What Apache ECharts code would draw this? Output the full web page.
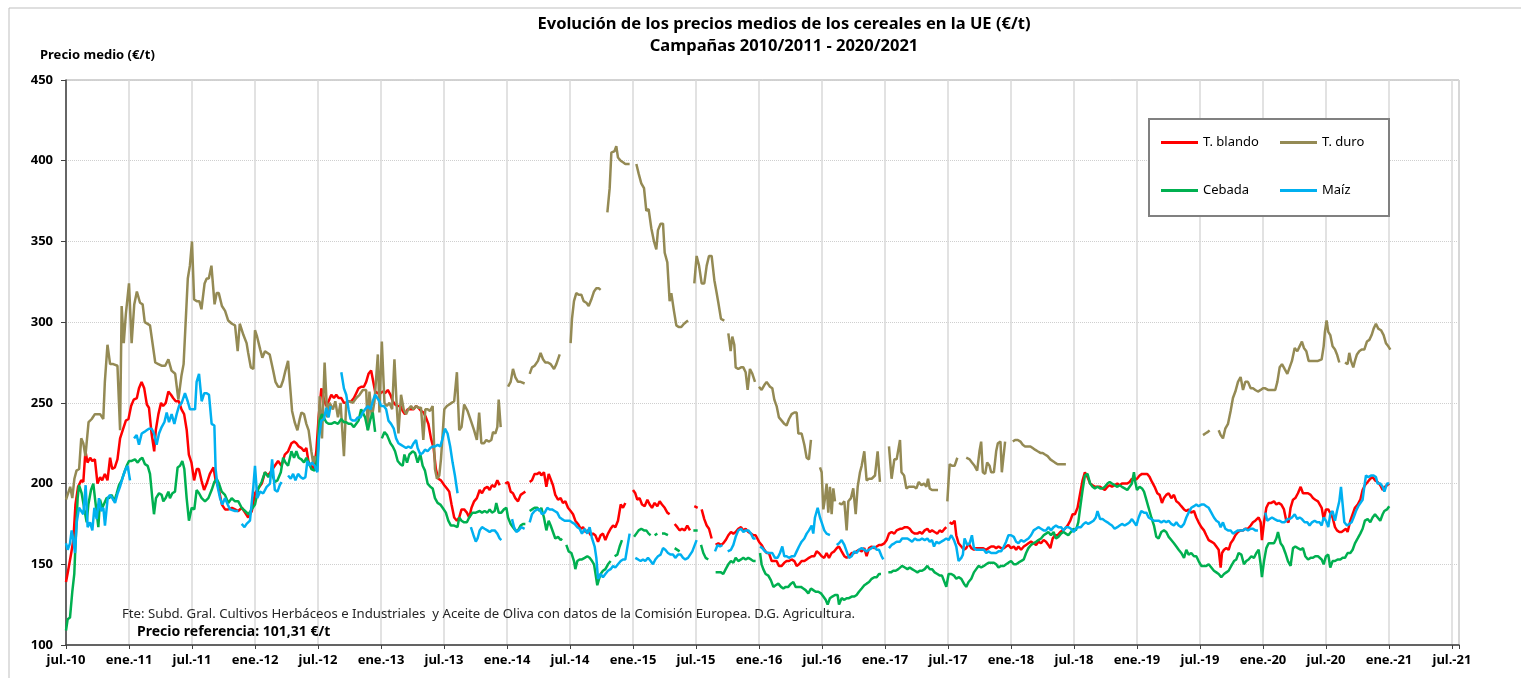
<!DOCTYPE html>
<html>
<head>
<meta charset="utf-8">
<script src="https://cdn.jsdelivr.net/npm/echarts@6/dist/echarts.min.js"></script>
<style>
  html, body { margin: 0; padding: 0; background: #fff; }
  #chart { width: 1521px; height: 678px; }
</style>
</head>
<body>
<div id="chart"></div>
<script>
// x = months since jul.-10, y = €/t ; null breaks the line
var xLabels = ['jul.-10','ene.-11','jul.-11','ene.-12','jul.-12','ene.-13','jul.-13','ene.-14','jul.-14','ene.-15','jul.-15','ene.-16',
  'jul.-16','ene.-17','jul.-17','ene.-18','jul.-18','ene.-19','jul.-19','ene.-20','jul.-20','ene.-21','jul.-21'];

var tBlando = [[0,139],[0.2,146],[0.5,157],[0.7,165],[0.9,187],[1.15,198],[1.45,202],[1.65,201],[1.85,220],[2.05,213],[2.3,216],[2.5,214],[2.75,215],[3.0,200],[3.25,204],[3.45,202],[3.7,206],[3.95,202],[4.2,216],[4.4,209],[4.65,210],[4.9,215],[5.15,228],[5.45,234],[5.7,239],[5.95,240],[6.2,248],[6.45,252],[6.75,253],[6.95,259],[7.2,263],[7.45,259],[7.7,249],[7.9,247],[8.15,231],[8.4,220],[8.55,233],[8.8,243],[9.05,250],[9.25,248],[9.5,250],[9.75,257],[10.0,255],[10.2,253],[10.45,251],[10.75,251],[11.0,246],[11.25,243],[11.5,233],[11.7,218],[11.95,213],[12.2,202],[12.45,209],[12.65,209],[12.9,202],[13.15,196],[13.4,200],[13.7,206],[14.05,210],[14.25,202],[14.5,198],[14.85,187],[15.15,184],[15.45,184],[15.8,185],[16.1,184],[16.4,183],[16.75,185],[17.05,182],[17.35,179],[17.7,183],[18.0,194],[18.3,197],[18.65,200],[18.95,207],[19.25,205],
  [19.57,208],[19.89,211],[20.2,214],[20.52,211],[20.84,218],[21.15,220],[21.47,225],[21.72,226],[21.94,225],[22.16,223],[22.42,222],[22.67,220],[22.89,222],[23.11,213],[23.37,211],[23.62,209],[23.84,220],[24.06,241],[24.32,259],[24.57,252],[24.79,248],[25.01,251],[25.27,255],[25.52,253],[25.74,255],[25.96,253],[26.22,253],[26.47,250],[26.69,250],[26.91,251],[27.16,251],[27.42,253],[27.64,256],[27.86,259],[28.11,260],[28.37,260],[28.59,263],[28.81,268],[29.06,270],[29.22,270],[29.44,257],[29.7,256],[29.95,256],[30.17,257],[30.39,256],[30.65,258],[30.9,255],[31.12,251],[31.34,249],[31.59,248],[31.85,248],[32.07,245],[32.29,243],[32.54,246],[32.86,246],[33.11,246],[33.34,248],[33.56,247],[33.81,245],[34.06,244],[34.28,241],[34.51,237],[34.76,228],[35.01,222],[35.23,209],[35.46,203],[35.71,202],[36.03,199],[36.28,197],[36.5,195],[36.72,187],[36.97,179],[37.23,177],[37.45,179],[37.67,184],[37.92,184],[38.18,182],[38.4,179],[38.62,185],[38.87,189],[39.13,191],
  [39.4,196],[39.62,194],[39.87,197],[40.13,198],[40.35,196],[40.57,199],[40.83,198],[41.08,202],[41.3,199],[41.55,null],[41.84,200],[42.1,201],[42.35,195],[42.57,194],[42.79,191],[43.05,189],[43.3,193],[43.52,194],[43.75,195],[43.95,null],[44.16,201],[44.38,202],[44.63,206],[44.89,206],[45.11,207],[45.27,205],[45.52,207],[45.75,198],[45.97,206],[46.16,205],[46.38,199],[46.6,193],[46.86,190],[47.11,191],[47.33,188],[47.56,189],[47.81,185],[48.06,183],[48.29,181],[48.51,177],[48.76,175],[49.02,172],[49.24,173],[49.46,170],[49.71,171],[49.97,168],[50.19,169],[50.41,168],[50.67,164],[50.92,168],[51.14,169],[51.37,165],[51.62,169],[51.87,172],[52.1,174],[52.32,173],[52.57,177],[52.83,187],[53.05,185],[53.27,188],[53.6,null],[54.0,196],[54.22,194],[54.41,190],[54.63,191],[54.86,187],[55.11,186],[55.37,190],[55.59,187],[55.81,185],[56.06,188],[56.32,186],[56.54,189],[56.76,187],[57.02,185],[57.27,182],[57.49,181],[57.7,null],[57.97,175],[58.22,173],[58.44,171],[58.67,172],[58.92,171],[59.17,174],[59.43,171],[59.6,null],
  [59.84,186],[60.16,185],[60.3,null],[60.54,184],[60.79,178],[61.02,174],[61.24,172],[61.49,166],[61.65,null],[61.87,162],[62.13,163],[62.38,162],[62.6,163],[62.83,165],[63.08,168],[63.33,170],[63.56,169],[63.78,170],[64.03,172],[64.29,173],[64.51,171],[64.73,172],[64.98,170],[65.24,169],[65.46,168],[65.68,168],[66.0,164],[66.25,162],[66.51,159],[66.73,157],[66.95,157],[67.21,152],[67.46,152],[67.68,152],[67.9,149],[68.16,149],[68.41,151],[68.63,152],[68.86,152],[69.11,153],[69.37,152],[69.59,149],[69.81,150],[70.06,152],[70.32,152],[70.54,153],[70.76,154],[71.02,155],[71.27,155],[71.49,158],[71.71,157],[71.97,155],[72.22,154],[72.44,157],[72.67,154],[72.92,157],[73.17,158],[73.4,160],[73.62,161],[73.87,158],[74.13,155],[74.35,154],[74.57,155],[74.83,157],[75.08,157],[75.3,158],[75.52,159],[75.78,158],[76.03,160],[76.25,155],[76.48,160],[76.73,161],[76.98,160],[77.21,161],[77.43,162],[77.68,162],[77.94,163],[78.16,165],[78.38,169],[78.63,170],[78.89,169],[79.11,171],[79.43,172],
  [79.63,172],[79.89,173],[80.14,173],[80.36,172],[80.58,170],[80.84,169],[81.09,169],[81.31,170],[81.53,169],[81.78,171],[82.04,172],[82.26,170],[82.48,171],[82.73,170],[82.99,169],[83.21,171],[83.43,170],[83.68,172],[83.84,173],[84.0,null],[84.16,176],[84.38,175],[84.63,177],[84.79,168],[85.01,163],[85.27,161],[85.52,159],[85.74,160],[85.96,163],[86.22,160],[86.47,159],[86.69,160],[87.0,160],[87.32,160],[87.64,159],[87.86,160],[88.11,161],[88.37,161],[88.59,160],[88.81,161],[89.06,160],[89.32,160],[89.54,161],[89.76,162],[90.01,160],[90.27,161],[90.49,159],[90.71,161],[90.96,159],[91.22,161],[91.44,162],[91.66,163],[91.91,164],[92.16,163],[92.39,162],[92.61,164],[92.86,163],[93.11,165],[93.34,164],[93.56,162],[93.75,160],[93.97,166],[94.19,168],[94.44,168],[94.7,170],[94.92,171],[95.14,172],[95.39,174],[95.65,177],[95.87,181],[96.09,181],[96.34,185],[96.59,194],[96.82,202],[97.04,207],[97.29,204],[97.54,200],[97.77,199],[97.99,198],[98.24,198],[98.49,198],[98.72,197],[98.94,196],[99.19,198],
  [99.4,199],[99.62,198],[99.87,199],[100.13,200],[100.35,199],[100.57,200],[100.83,200],[101.08,200],[101.3,201],[101.52,203],[101.78,202],[102.0,203],[102.25,205],[102.48,206],[102.73,206],[102.98,206],[103.21,204],[103.43,201],[103.68,198],[103.94,194],[104.16,193],[104.38,188],[104.57,191],[104.79,193],[105.02,194],[105.27,191],[105.52,193],[105.75,189],[105.97,188],[106.22,186],[106.48,184],[106.7,183],[106.92,184],[107.17,182],[107.43,183],[107.65,179],[107.87,176],[108.13,173],[108.38,171],[108.6,168],[108.83,165],[109.08,164],[109.33,163],[109.56,161],[109.78,159],[109.97,148],[110.1,157],[110.29,159],[110.51,160],[110.73,159],[110.92,163],[111.14,165],[111.37,168],[111.62,170],[111.87,171],[112.1,171],[112.32,172],[112.57,172],[112.83,174],[113.05,176],[113.27,177],[113.46,178],[113.59,179],[113.78,176],[113.9,165],[114.1,176],[114.32,185],[114.54,188],[114.79,188],[115.05,189],[115.27,187],[115.49,188],[115.75,187],[116.0,184],[116.22,177],[116.44,176],[116.63,185],[116.86,190],[117.08,191],[117.33,194],[117.59,198],[117.81,194],[118.03,194],[118.29,194],[118.54,193],[118.76,191],[118.98,190],[119.24,189],
  [119.59,185],[119.78,178],[120.0,184],[120.22,184],[120.41,183],[120.63,179],[120.86,173],[121.05,171],[121.27,170],[121.49,170],[121.68,171],[121.9,172],[122.06,170],[122.32,177],[122.54,181],[122.76,185],[123.02,187],[123.27,190],[123.49,196],[123.71,199],[123.97,201],[124.22,203],[124.44,204],[124.67,202],[124.92,201],[125.17,199],[125.4,196],[125.62,198],[125.81,198],[126.03,200]];

var tDuro = [[0,190],[0.4,198],[0.6,191],[0.8,203],[1.0,208],[1.25,209],[1.45,228],[1.65,225],[1.85,217],[2.15,238],[2.45,240],[2.75,243],[3.25,243],[3.55,240],[3.7,263],[3.95,286],[4.2,274],[4.5,274],[4.9,273],[5.15,233],[5.3,310],[5.5,287],[5.7,305],[6.0,324],[6.25,287],[6.5,311],[6.75,319],[7.05,312],[7.3,311],[7.5,300],[8.0,298],[8.5,275],[8.8,274],[9.1,273],[9.45,273],[9.75,277],[10.05,270],[10.4,268],[10.7,252],[11.0,267],[11.2,274],[11.35,275],[11.6,327],[11.8,335],[12.0,350],[12.2,314],[12.45,313],[12.7,313],[12.9,308],[13.2,324],[13.4,327],[13.6,327],[13.85,335],[14.15,311],[14.35,318],[14.55,318],[14.85,310],[15.15,307],[15.45,301],[15.8,299],[16.1,298],[16.35,282],[16.55,299],[16.9,292],[17.2,287],[17.35,281],[17.6,272],[17.85,271],[18.0,295],[18.2,291],[18.5,283],[18.7,278],[18.95,282],[19.4,280],
  [19.73,270],[19.95,263],[20.2,260],[20.46,260],[20.68,264],[20.9,270],[21.15,276],[21.31,263],[21.53,245],[21.78,238],[22.04,233],[22.26,240],[22.42,244],[22.67,243],[22.89,237],[23.11,233],[23.37,220],[23.53,213],[23.68,217],[23.94,208],[24.16,254],[24.38,228],[24.63,275],[24.89,241],[25.11,250],[25.42,246],[25.65,251],[25.9,241],[26.15,250],[26.47,217],[26.69,250],[27.0,251],[27.32,250],[27.64,253],[27.96,255],[28.27,258],[28.59,258],[28.75,233],[28.9,257],[29.13,241],[29.38,251],[29.7,280],[29.85,244],[30.08,288],[30.33,250],[30.55,248],[30.8,250],[31.06,246],[31.28,277],[31.5,248],[31.66,231],[31.91,255],[32.16,246],[32.39,243],[32.6,246],[32.86,248],[33.08,246],[33.34,248],[33.56,247],[33.81,247],[34.03,227],[34.22,246],[34.44,246],[34.66,245],[34.92,248],[35.14,209],[35.33,203],[35.55,205],[35.71,215],[36.03,246],[36.28,248],[36.5,249],[36.72,250],[36.97,251],[37.23,269],[37.45,233],[37.67,235],[37.92,249],[38.24,245],[38.56,239],[38.87,233],[39.13,227],[39.35,244],
  [39.56,225],[39.81,225],[40.03,227],[40.25,226],[40.51,227],[40.67,232],[40.89,231],[41.08,235],[41.21,252],[41.4,235],[41.7,null],[42.1,260],[42.35,263],[42.57,271],[42.79,266],[43.05,263],[43.3,263],[43.68,262],[43.9,null],[44.16,268],[44.38,272],[44.63,273],[44.95,276],[45.2,281],[45.43,277],[45.65,275],[45.9,275],[46.16,274],[46.48,271],[46.7,274],[47.02,280],[47.5,null],[48.06,287],[48.19,302],[48.38,313],[48.6,318],[48.83,317],[49.08,317],[49.3,313],[49.56,312],[49.78,310],[50.03,314],[50.29,319],[50.51,321],[50.73,321],[50.92,320],[51.2,null],[51.56,368],[51.78,383],[51.94,405],[52.1,406],[52.25,406],[52.41,409],[52.57,402],[52.83,400],[53.05,399],[53.27,398],[53.68,398],[54.0,null],[54.32,398],[54.54,392],[54.79,386],[55.05,383],[55.27,369],[55.49,370],[55.75,358],[56.0,350],[56.22,345],[56.38,357],[56.63,361],[56.86,361],[57.02,343],[57.27,337],[57.49,313],[57.65,318],[57.9,307],[58.13,298],[58.35,297],[58.6,297],[58.86,299],[59.24,301],[59.5,null],
  [59.84,324],[60.06,341],[60.29,335],[60.54,324],[60.79,324],[61.02,335],[61.24,341],[61.49,341],[61.75,326],[61.97,318],[62.13,312],[62.38,302],[62.7,301],[62.9,null],[63.08,293],[63.3,282],[63.46,291],[63.65,286],[63.78,272],[64.03,271],[64.29,272],[64.51,272],[64.73,269],[64.92,258],[65.14,271],[65.37,268],[65.62,263],[65.8,null],[66.0,260],[66.25,258],[66.51,261],[66.73,263],[67.05,260],[67.27,259],[67.46,252],[67.68,248],[67.9,241],[68.16,239],[68.41,237],[68.63,236],[68.86,240],[69.11,243],[69.37,244],[69.59,244],[69.75,231],[70.06,231],[70.32,224],[70.54,216],[70.76,215],[70.95,227],[71.4,null],[71.81,210],[71.97,207],[72.13,184],[72.29,191],[72.44,200],[72.6,182],[72.76,198],[72.92,181],[73.08,197],[73.24,189],[73.42,null],[73.62,188],[73.87,187],[74.13,189],[74.35,171],[74.51,189],[74.76,191],[74.98,197],[75.21,181],[75.4,198],[75.62,207],[75.78,211],[76.03,220],[76.25,202],[76.48,203],[76.73,203],[77.05,205],[77.3,220],[77.52,201],[77.9,null],[78.38,223],[78.63,203],[78.89,215],[79.11,215],[79.43,227],
  [79.57,207],[79.82,205],[80.04,197],[80.27,198],[80.52,198],[80.77,198],[80.99,197],[81.22,201],[81.47,199],[81.72,200],[81.94,198],[82.1,203],[82.26,197],[82.48,196],[82.73,196],[83.05,196],[83.5,null],[83.94,189],[84.06,202],[84.16,212],[84.38,211],[84.63,211],[84.89,216],[85.3,null],[85.74,216],[86.06,215],[86.28,213],[86.53,211],[86.78,208],[87.0,220],[87.16,226],[87.32,207],[87.54,206],[87.73,213],[87.96,211],[88.11,207],[88.37,207],[88.59,220],[88.75,225],[89.0,226],[89.13,207],[89.32,207],[89.44,226],[89.8,null],[90.17,226],[90.39,227],[90.65,227],[90.9,226],[91.12,224],[91.34,223],[91.59,223],[91.85,223],[92.07,222],[92.29,221],[92.54,220],[92.8,219],[93.02,219],[93.24,218],[93.49,217],[93.75,215],[93.97,214],[94.19,213],[94.44,212],[94.76,212],[95.23,212],[95.5,null],
  [108.29,230],[108.51,231],[108.76,232],[108.92,233],[109.3,null],[109.78,233],[109.97,230],[110.19,228],[110.41,234],[110.67,237],[110.92,245],[111.14,253],[111.37,257],[111.62,263],[111.87,266],[112.1,258],[112.32,263],[112.57,263],[112.83,259],[113.05,259],[113.27,258],[113.52,257],[113.78,258],[114.0,259],[114.22,259],[114.48,258],[114.73,258],[114.95,258],[115.17,258],[115.37,263],[115.59,272],[115.81,274],[116.06,271],[116.32,268],[116.54,272],[116.76,276],[117.02,284],[117.27,282],[117.49,285],[117.71,288],[117.9,284],[118.13,282],[118.35,276],[118.6,276],[118.92,276],[119.24,276],
  [119.59,277],[119.78,285],[119.9,294],[120.06,301],[120.22,294],[120.41,292],[120.63,285],[120.86,283],[121.05,280],[121.27,275],[121.55,null],[121.81,275],[122.06,274],[122.22,281],[122.38,276],[122.6,272],[122.76,276],[122.95,280],[123.17,282],[123.4,283],[123.65,283],[123.9,288],[124.13,289],[124.35,292],[124.54,296],[124.76,299],[124.98,296],[125.24,295],[125.49,292],[125.71,287],[125.94,285],[126.13,283]];

var cebada = [[0,109],[0.16,116],[0.38,117],[0.6,133],[0.79,144],[0.92,165],[1.11,191],[1.24,199],[1.49,194],[1.75,184],[1.97,176],[2.13,187],[2.38,196],[2.6,200],[2.83,187],[3.08,173],[3.24,190],[3.46,185],[3.65,186],[3.87,191],[4.1,191],[4.35,193],[4.6,189],[4.83,194],[5.05,199],[5.3,202],[5.56,207],[5.78,211],[6.0,214],[6.25,214],[6.57,215],[6.83,213],[7.05,215],[7.27,216],[7.52,212],[7.78,211],[8.0,206],[8.22,191],[8.38,181],[8.57,191],[8.86,194],[9.11,193],[9.27,189],[9.49,191],[9.75,195],[9.9,191],[10.13,194],[10.38,195],[10.63,210],[10.86,211],[11.08,214],[11.27,209],[11.49,191],[11.71,177],[11.97,185],[12.22,184],[12.44,196],[12.67,194],[12.92,191],[13.24,189],[13.56,191],[13.87,196],[14.13,201],[14.35,203],[14.57,200],[14.83,195],[15.14,193],[15.46,188],[15.78,191],[16.1,189],[16.41,189],[16.73,185],[17.05,183],[17.37,181],[17.68,184],[18.0,187],[18.32,197],[18.63,201],[18.95,207],[19.27,204],
  [19.57,207],[19.89,201],[20.14,202],[20.46,207],[20.68,216],[20.9,213],[21.15,211],[21.47,220],[21.72,216],[21.94,220],[22.16,216],[22.42,215],[22.67,213],[22.89,216],[23.11,213],[23.37,209],[23.68,208],[23.94,215],[24.16,239],[24.38,243],[24.57,244],[24.79,238],[25.01,237],[25.27,237],[25.58,238],[25.9,237],[26.22,240],[26.47,238],[26.69,238],[26.91,237],[27.16,237],[27.42,235],[27.64,237],[27.86,239],[28.11,246],[28.27,246],[28.49,241],[28.75,233],[29.0,240],[29.22,244],[29.44,232],[29.75,null],[30.08,228],[30.33,232],[30.58,230],[30.9,225],[31.12,223],[31.34,220],[31.59,214],[31.85,212],[32.07,211],[32.23,218],[32.48,213],[32.7,218],[33.02,220],[33.24,219],[33.49,213],[33.75,218],[33.97,211],[34.19,208],[34.44,200],[34.7,198],[34.92,197],[35.14,191],[35.39,188],[35.65,187],[35.87,185],[36.18,182],[36.41,177],[36.66,174],[36.97,174],[37.29,173],[37.45,179],[37.67,177],[37.92,176],[38.18,176],[38.4,179],[38.72,182],[39.03,182],
  [39.4,183],[39.62,182],[39.87,183],[40.13,182],[40.35,184],[40.57,182],[40.83,183],[40.98,188],[41.21,182],[41.46,182],[41.71,184],[41.94,185],[42.1,179],[42.35,175],[42.57,173],[42.79,171],[43.05,171],[43.3,174],[43.52,175],[43.75,175],[43.95,null],[44.16,183],[44.38,184],[44.63,185],[44.89,185],[45.11,183],[45.27,185],[45.52,179],[45.75,171],[45.97,177],[46.16,174],[46.38,170],[46.6,166],[46.86,167],[47.11,165],[47.24,166],[47.45,null],[47.65,162],[47.87,158],[48.13,157],[48.38,152],[48.51,147],[48.7,152],[48.92,153],[49.14,153],[49.4,154],[49.65,155],[49.87,154],[50.1,152],[50.29,150],[50.41,145],[50.6,137],[50.73,140],[50.92,144],[51.14,146],[51.37,147],[51.62,150],[51.87,152],[52.05,null],[52.25,155],[52.51,156],[52.73,161],[52.95,165],[53.5,null],[54.1,167],[54.32,169],[54.54,171],[54.79,172],[55.05,171],[55.27,171],[55.49,169],[55.68,168],[55.85,null],[56.06,168],[56.32,169],[56.5,null],[56.76,169],[57.02,169],[57.33,168],[57.6,null],[57.97,160],[58.44,158],[58.7,null],
  [59.75,171],[60.16,171],[60.3,null],[60.48,162],[60.7,157],[60.92,154],[61.17,153],[61.5,null],[61.87,145],[62.13,145],[62.38,145],[62.6,144],[62.83,147],[63.08,150],[63.33,152],[63.56,151],[63.78,154],[64.03,152],[64.29,153],[64.51,154],[64.73,153],[64.98,154],[65.24,153],[65.46,152],[65.68,152],[65.9,null],[66.1,157],[66.25,150],[66.41,147],[66.63,144],[66.89,143],[67.14,140],[67.37,136],[67.59,137],[67.84,138],[68.1,136],[68.32,135],[68.54,136],[68.79,136],[69.05,138],[69.27,139],[69.49,136],[69.75,136],[70.0,136],[70.22,135],[70.44,134],[70.7,132],[70.95,135],[71.17,134],[71.4,133],[71.65,133],[71.9,132],[72.13,130],[72.35,128],[72.54,125],[72.76,129],[72.98,130],[73.24,131],[73.49,131],[73.62,125],[73.87,129],[74.13,128],[74.35,129],[74.57,129],[74.83,130],[75.08,130],[75.3,131],[75.52,133],[75.78,135],[76.03,137],[76.25,138],[76.48,139],[76.73,141],[76.98,142],[77.21,142],[77.43,144],[77.62,144],[78.0,null],[78.32,145],[78.57,145],[78.79,146],[79.02,146],[79.27,147],
  [79.63,149],[79.89,148],[80.14,147],[80.36,148],[80.58,147],[80.84,146],[81.09,145],[81.31,146],[81.53,146],[81.78,147],[82.04,149],[82.26,147],[82.48,147],[82.73,145],[82.99,144],[83.21,143],[83.43,143],[83.62,144],[83.84,136],[83.94,135],[84.06,144],[84.32,144],[84.57,143],[84.79,141],[85.01,142],[85.27,141],[85.52,138],[85.74,136],[85.96,139],[86.22,141],[86.47,145],[86.69,147],[86.91,149],[87.16,148],[87.42,149],[87.64,150],[87.86,151],[88.11,151],[88.37,151],[88.59,150],[88.81,148],[89.06,149],[89.32,149],[89.54,150],[89.76,151],[90.01,152],[90.27,150],[90.49,150],[90.71,151],[90.96,152],[91.22,153],[91.44,157],[91.66,160],[91.91,162],[92.16,163],[92.39,164],[92.61,165],[92.86,166],[93.11,168],[93.34,169],[93.56,170],[93.81,168],[94.06,170],[94.28,166],[94.51,167],[94.76,169],[95.01,170],[95.23,169],[95.46,168],[95.71,170],[95.96,172],[96.18,171],[96.41,176],[96.59,185],[96.82,196],[97.04,205],[97.29,206],[97.54,200],[97.77,198],[97.99,197],[98.24,198],[98.49,197],[98.72,197],[98.94,198],[99.19,200],
  [99.4,201],[99.62,200],[99.87,199],[100.13,198],[100.35,199],[100.57,198],[100.83,197],[101.08,196],[101.3,198],[101.52,200],[101.71,207],[101.84,201],[102.0,196],[102.25,198],[102.48,197],[102.67,195],[102.89,190],[103.11,185],[103.37,179],[103.62,174],[103.84,167],[104.06,166],[104.32,170],[104.57,171],[104.79,170],[105.02,167],[105.27,165],[105.52,163],[105.75,161],[105.97,159],[106.22,157],[106.48,154],[106.7,159],[106.92,156],[107.17,157],[107.43,155],[107.65,155],[107.87,152],[108.13,149],[108.38,149],[108.6,149],[108.83,150],[109.08,148],[109.33,146],[109.56,145],[109.78,144],[110.03,142],[110.29,144],[110.51,145],[110.73,146],[110.98,149],[111.24,152],[111.46,153],[111.68,157],[111.94,156],[112.19,150],[112.41,152],[112.63,153],[112.89,155],[113.14,154],[113.37,157],[113.59,159],[113.78,150],[113.9,142],[114.1,152],[114.32,160],[114.54,163],[114.79,163],[115.05,163],[115.27,166],[115.43,170],[115.68,163],[115.9,161],[116.13,157],[116.38,152],[116.63,149],[116.86,160],[117.08,161],[117.33,160],[117.59,159],[117.81,160],[118.03,155],[118.29,153],[118.54,154],[118.76,154],[118.98,155],[119.24,155],
  [119.59,153],[119.78,150],[120.0,155],[120.22,156],[120.41,148],[120.63,152],[120.86,152],[121.11,153],[121.37,153],[121.59,154],[121.81,154],[122.06,157],[122.32,157],[122.54,159],[122.76,163],[123.02,166],[123.27,169],[123.49,172],[123.71,177],[123.97,178],[124.22,176],[124.44,179],[124.67,181],[124.92,179],[125.17,177],[125.4,181],[125.56,183],[125.81,184],[126.03,186]];

var maiz = [[0,163],[0.16,159],[0.38,163],[0.54,171],[0.7,165],[0.86,157],[1.02,176],[1.24,185],[1.65,181],[1.87,199],[2.06,173],[2.29,176],[2.51,171],[2.7,185],[2.92,178],[3.14,191],[3.33,183],[3.56,185],[3.71,174],[3.97,191],[4.19,193],[4.41,191],[4.67,188],[4.92,194],[5.14,198],[5.46,205],[5.68,209],[5.87,211],[6.1,202],[6.3,null],[6.48,228],[6.73,230],[6.95,224],[7.21,231],[7.46,232],[7.68,233],[7.9,234],[8.16,234],[8.38,231],[8.63,224],[8.86,231],[9.11,235],[9.37,238],[9.59,244],[9.81,238],[10.06,243],[10.32,237],[10.54,243],[10.76,248],[11.02,250],[11.33,256],[11.59,251],[11.81,246],[12.03,246],[12.29,246],[12.44,263],[12.67,268],[12.92,251],[13.17,256],[13.4,256],[13.62,255],[13.87,237],[14.13,236],[14.25,209],[14.44,198],[14.67,191],[14.89,187],[15.14,191],[15.4,187],[15.62,184],[15.78,183],[16.1,183],[16.41,183],[16.55,null],[16.73,175],[17.0,173],[17.2,175],[17.52,177],[17.84,198],[18.0,211],[18.22,191],[18.48,195],[18.79,194],[19.11,198],[19.43,200],
  [19.63,215],[19.89,196],[20.14,195],[20.36,199],[20.52,201],[20.8,null],[21.15,205],[21.41,203],[21.63,206],[21.85,202],[22.1,206],[22.35,204],[22.58,203],[22.8,204],[22.99,214],[23.21,211],[23.43,213],[23.68,211],[23.94,207],[24.09,228],[24.32,239],[24.57,240],[24.79,247],[25.01,241],[25.2,248],[25.6,null],[26.22,269],[26.47,259],[26.69,255],[26.91,246],[27.1,240],[27.32,239],[27.54,239],[27.8,241],[28.05,241],[28.27,244],[28.49,246],[28.75,248],[29.0,246],[29.22,251],[29.44,255],[29.63,256],[29.85,251],[30.01,248],[30.27,248],[30.49,246],[30.71,239],[30.96,237],[31.22,234],[31.44,228],[31.66,225],[31.91,224],[32.16,223],[32.39,222],[32.61,223],[32.86,222],[33.11,225],[33.34,227],[33.49,222],[33.75,218],[33.97,219],[34.19,221],[34.44,220],[34.7,222],[34.92,223],[35.14,223],[35.39,224],[35.65,223],[35.87,228],[36.09,234],[36.34,231],[36.59,223],[36.82,213],[37.04,205],[37.29,194],[37.8,null],[38.56,173],[38.81,168],[39.03,164],[39.2,166],
  [39.4,171],[39.62,173],[39.87,172],[40.13,171],[40.35,170],[40.57,171],[40.83,171],[41.08,169],[41.3,166],[41.46,165],[41.9,null],[42.48,178],[42.67,173],[42.89,170],[43.11,171],[43.37,173],[43.68,172],[43.95,null],[44.16,176],[44.38,181],[44.63,183],[44.89,184],[45.11,184],[45.33,181],[45.59,182],[45.84,185],[46.06,184],[46.29,184],[46.54,183],[46.79,182],[47.02,179],[47.24,178],[47.49,177],[47.75,177],[47.97,177],[48.19,176],[48.44,175],[48.7,173],[48.92,172],[49.14,169],[49.4,172],[49.65,169],[49.87,173],[50.1,166],[50.35,161],[50.51,154],[50.67,141],[50.92,144],[51.14,142],[51.37,144],[51.62,146],[51.87,147],[52.1,149],[52.32,148],[52.57,150],[52.83,152],[53.05,153],[53.27,153],[53.46,154],[53.68,169],[53.95,null],[54.22,154],[54.48,153],[54.73,152],[54.95,153],[55.17,152],[55.43,154],[55.68,152],[55.9,150],[56.13,153],[56.38,155],[56.63,156],[56.86,160],[57.08,159],[57.33,157],[57.59,156],[57.81,156],[58.03,154],[58.29,156],[58.54,156],[58.76,154],[58.98,153],[59.24,154],[59.4,155],
  [59.65,158],[59.84,157],[60.06,165],[60.3,null],[61.81,158],[62.06,162],[62.29,161],[62.51,162],[62.75,null],[63.02,158],[63.33,159],[63.56,162],[63.78,167],[64.03,171],[64.29,172],[64.51,170],[64.73,171],[64.98,171],[65.24,169],[65.46,166],[65.68,166],[65.9,null],[66.1,161],[66.32,160],[66.57,158],[66.83,157],[67.05,157],[67.27,157],[67.52,154],[67.78,154],[68.0,157],[68.22,161],[68.41,155],[68.63,155],[68.86,154],[69.11,155],[69.37,155],[69.59,158],[69.81,161],[70.06,164],[70.32,166],[70.54,169],[70.76,171],[71.02,174],[71.17,169],[71.33,179],[71.59,185],[71.81,179],[71.97,176],[72.22,171],[72.44,169],[72.76,168],[73.1,null],[73.4,162],[73.62,163],[73.87,165],[74.13,162],[74.35,158],[74.57,154],[74.83,155],[75.08,158],[75.3,157],[75.52,159],[75.78,160],[76.03,159],[76.25,158],[76.48,159],[76.73,160],[76.98,161],[77.21,159],[77.43,159],[77.68,155],[77.84,153],[78.1,null],[78.38,160],[78.63,162],[78.89,163],[79.11,164],[79.43,164],
  [79.63,166],[79.89,166],[80.14,166],[80.36,165],[80.58,164],[80.84,166],[81.09,165],[81.31,165],[81.53,166],[81.78,165],[82.04,166],[82.26,164],[82.48,165],[82.67,161],[82.89,164],[83.11,163],[83.37,164],[83.62,165],[83.84,166],[84.06,165],[84.32,168],[84.57,165],[84.79,161],[85.01,152],[85.27,154],[85.42,156],[85.58,166],[85.84,162],[86.06,163],[86.28,168],[86.47,160],[86.69,159],[86.91,159],[87.16,159],[87.42,159],[87.64,157],[87.86,158],[88.11,157],[88.37,157],[88.59,157],[88.81,158],[89.06,158],[89.32,161],[89.54,164],[89.76,168],[90.01,168],[90.27,167],[90.49,164],[90.71,163],[90.96,165],[91.22,164],[91.44,165],[91.66,166],[91.91,168],[92.16,171],[92.39,172],[92.61,173],[92.86,172],[93.11,171],[93.34,171],[93.56,173],[93.81,171],[94.06,173],[94.28,174],[94.51,173],[94.76,173],[95.01,171],[95.23,173],[95.46,173],[95.71,172],[95.96,170],[96.18,172],[96.41,173],[96.66,173],[96.91,175],[97.13,176],[97.36,175],[97.61,176],[97.86,177],[98.08,179],[98.24,183],[98.49,178],[98.72,178],[98.94,177],[99.19,176],
  [99.4,175],[99.62,174],[99.87,172],[100.13,173],[100.35,174],[100.57,175],[100.83,174],[101.08,175],[101.3,176],[101.52,178],[101.71,177],[101.94,174],[102.16,179],[102.41,183],[102.67,182],[102.89,182],[103.11,179],[103.37,178],[103.62,177],[103.84,177],[104.06,177],[104.32,176],[104.57,177],[104.79,176],[105.02,177],[105.27,175],[105.52,174],[105.75,176],[105.97,174],[106.22,173],[106.48,175],[106.7,179],[106.92,182],[107.17,185],[107.43,186],[107.65,187],[107.87,186],[108.13,187],[108.38,187],[108.6,186],[108.83,185],[109.08,182],[109.33,179],[109.56,177],[109.78,176],[109.97,173],[110.19,176],[110.41,172],[110.67,171],[110.92,171],[111.14,169],[111.37,170],[111.62,171],[111.87,171],[112.1,171],[112.32,172],[112.57,171],[112.83,172],[113.05,172],[113.27,171],[113.52,171],[113.85,null],[114.22,182],[114.41,177],[114.63,178],[114.86,179],[115.11,178],[115.37,177],[115.59,177],[115.81,176],[116.06,176],[116.32,178],[116.54,178],[116.76,179],[117.02,181],[117.27,178],[117.49,179],[117.71,178],[117.97,176],[118.22,176],[118.44,174],[118.67,176],[118.92,177],[119.17,176],[119.4,176],
  [119.59,174],[119.78,179],[120.0,177],[120.22,173],[120.41,181],[120.63,183],[120.86,177],[121.05,183],[121.27,189],[121.43,198],[121.59,187],[121.75,176],[122.0,174],[122.22,175],[122.44,176],[122.63,179],[122.86,183],[123.08,186],[123.27,187],[123.49,190],[123.65,198],[123.81,205],[124.03,204],[124.29,205],[124.54,205],[124.76,204],[124.92,200],[125.17,200],[125.4,198],[125.56,195],[125.81,200],[126.03,200]];

var chart = echarts.init(document.getElementById('chart'));
var font = "'Noto Sans', 'Open Sans', sans-serif";

function serie(name, data, color) {
  return {
    name: name, type: 'line', data: data, showSymbol: false, connectNulls: false,
    lineStyle: { color: color, width: 2.5 }, itemStyle: { color: color }
  };
}

function legendAt(name, left, top) {
  return {
    data: [name], left: left, top: top, padding: 0, icon: 'rect', itemWidth: 37, itemHeight: 3, z: 6,
    selectedMode: false, textStyle: { fontFamily: font, fontSize: 13, color: '#000' }
  };
}

chart.setOption({
  animation: false,
  backgroundColor: '#fff',
  grid: { left: 66, top: 80, width: 1393, height: 565, show: true, borderColor: '#a6a6a6', borderWidth: 1 },
  xAxis: {
    type: 'value', min: 0, max: 132.67, interval: 6,
    axisLine: { lineStyle: { color: '#404040', width: 1.5 } },
    axisTick: { show: true, length: 4, lineStyle: { color: '#404040' } },
    axisLabel: {
      margin: 9, fontFamily: font, fontSize: 13, fontWeight: 'bold', color: '#000',
      formatter: function (v) { var i = Math.round(v / 6); return Math.abs(v - i * 6) < 0.01 ? (xLabels[i] || '') : ''; }
    },
    splitLine: { show: true, lineStyle: { color: '#d9d9d9', width: 1.5 } }
  },
  yAxis: {
    type: 'value', min: 100, max: 450, interval: 50,
    axisLine: { show: true, lineStyle: { color: '#404040', width: 1.5 } },
    axisTick: { show: true, length: 5, lineStyle: { color: '#404040' } },
    axisLabel: { margin: 13, fontFamily: font, fontSize: 13, fontWeight: 'bold', color: '#000' },
    splitLine: { show: true, lineStyle: { color: '#cfcfcf', width: 1, type: 'dotted' } }
  },
  legend: [
    legendAt('T. blando', 1161, 136), legendAt('T. duro', 1280, 136),
    legendAt('Cebada', 1161, 184), legendAt('Maíz', 1280, 184)
  ],
  graphic: [
    { type: 'line', shape: { x1: 9, y1: 8, x2: 1521, y2: 8 }, style: { stroke: '#bfbfbf', lineWidth: 1 }, silent: true },
    { type: 'line', shape: { x1: 9, y1: 8, x2: 9, y2: 678 }, style: { stroke: '#bfbfbf', lineWidth: 1 }, silent: true },
    { type: 'rect', shape: { x: 1149, y: 119, width: 240, height: 97 }, style: { fill: '#fff', stroke: '#808080', lineWidth: 2 }, z: 3, silent: true },
    { type: 'text', x: 784, y: 24, style: { text: 'Evolución de los precios medios de los cereales en la UE (€/t)', font: 'bold 16.5px ' + font, fill: '#000', textAlign: 'center', textVerticalAlign: 'middle' } },
    { type: 'text', x: 784, y: 46, style: { text: 'Campañas 2010/2011 - 2020/2021', font: 'bold 16.5px ' + font, fill: '#000', textAlign: 'center', textVerticalAlign: 'middle' } },
    { type: 'text', x: 40, y: 55, style: { text: 'Precio medio (€/t)', font: 'bold 13px ' + font, fill: '#000', textVerticalAlign: 'middle' } },
    { type: 'text', x: 122, y: 614, z: 10, style: { text: 'Fte: Subd. Gral. Cultivos Herbáceos e Industriales  y Aceite de Oliva con datos de la Comisión Europea. D.G. Agricultura.', font: '13.2px ' + font, fill: '#262626', textVerticalAlign: 'middle' } },
    { type: 'text', x: 137, y: 632, z: 10, style: { text: 'Precio referencia: 101,31 €/t', font: 'bold 14px ' + font, fill: '#000', textVerticalAlign: 'middle' } }
  ],
  series: [
    serie('T. blando', tBlando, '#ff0000'),
    serie('T. duro', tDuro, '#948a54'),
    serie('Cebada', cebada, '#00b050'),
    serie('Maíz', maiz, '#00b0f0')
  ]
});
</script>
</body>
</html>
